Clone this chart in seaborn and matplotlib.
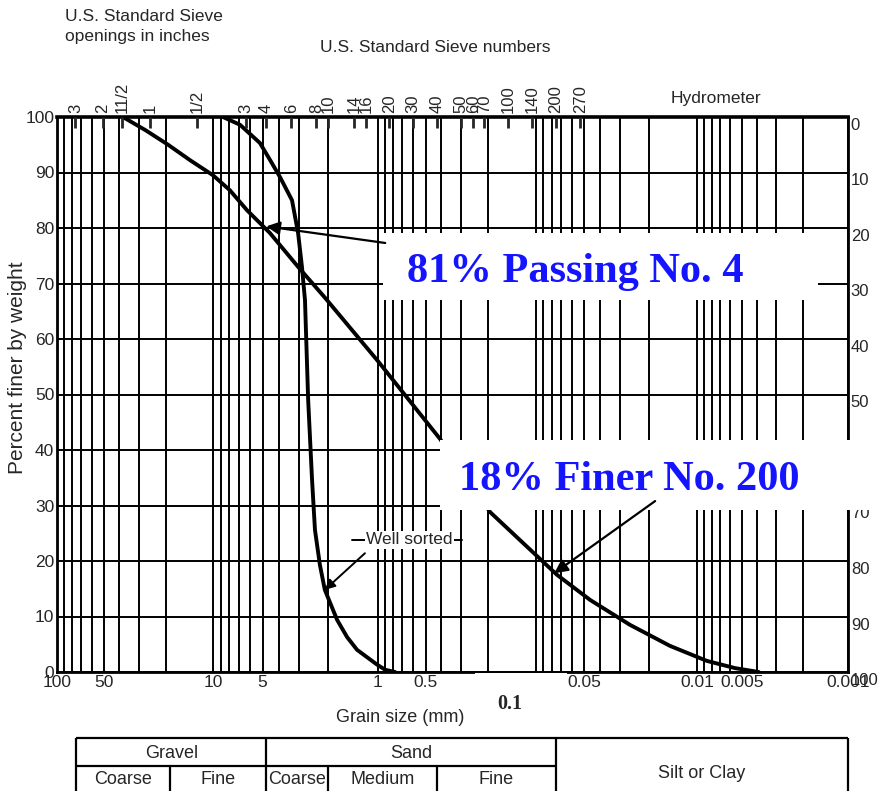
import numpy as np
import matplotlib
matplotlib.use('Agg')
import matplotlib.pyplot as plt
import matplotlib.transforms as mtransforms
from matplotlib.patches import Rectangle
import seaborn as sns

# grain size distribution curves (size in mm, percent finer)
well_graded_mm = [37.8, 27.0, 19.4, 14.0, 10.0, 7.9, 6.22, 4.52, 3.05, 2.09, 1.0, 0.405, 0.195, 0.074,
                  0.0462, 0.0261, 0.0147, 0.0086, 0.0056, 0.0039]
well_graded_pct = [100, 97.6, 95, 92.2, 89.5, 86.8, 83.2, 79.1, 73, 67.4, 56, 42, 28.8, 17.5,
                   13.0, 8.5, 4.7, 2.0, 0.7, 0]

well_sorted_mm = [8.7, 6.86, 5.19, 4.52, 3.93, 3.32, 3.05, 2.89, 2.77, 2.65, 2.51, 2.41,
                  2.25, 2.10, 1.77, 1.54, 1.34, 1.01, 0.90, 0.78]
well_sorted_pct = [100, 98.6, 95.3, 92.3, 89.2, 85, 79.1, 73, 67, 49, 34.6, 25.6,
                   19.3, 14.8, 9.4, 6.3, 4, 1.3, 0.4, 0]

# axis labelling
size_ticks = [100, 50, 10, 5, 1, 0.5, 0.05, 0.01, 0.005, 0.001]
size_tick_labels = ['100', '50', '10', '5', '1', '0.5', '0.05', '0.01', '0.005', '0.001']
pct_ticks = list(range(0, 101, 10))
hydrometer_labels = [str(v) for v in range(0, 101, 10)]

sieve_mm = [76.2, 50.8, 38.1, 25.4, 12.7,
            6.35, 4.75, 3.35, 2.36, 2.0, 1.4, 1.18, 0.85, 0.6, 0.425,
            0.3, 0.25, 0.212, 0.15, 0.106, 0.075, 0.053]
sieve_labels = ['3', '2', '11/2', '1', '1/2',
                '3', '4', '6', '8', '10', '14', '16', '20', '30', '40',
                '50', '60', '70', '100', '140', '200', '270']

# soil classes (boundaries in mm)
class_top = [('Gravel', 75, 4.75), ('Sand', 4.75, 0.075)]
class_bottom = [('Coarse', 75, 19), ('Fine', 19, 4.75), ('Coarse', 4.75, 2.0),
                ('Medium', 2.0, 0.425), ('Fine', 0.425, 0.075)]

# the printed log axis is not perfectly even between decades
knot_log = [-3, -2, -1, 0, 1, 2]
knot_pos = [0, 151, 312, 470, 635, 791]


def fwd(x):
    return np.interp(np.log10(np.clip(x, 1e-9, None)), knot_log, knot_pos)


def inv(p):
    return 10 ** np.interp(p, knot_pos, knot_log)


def mid(a, b):
    return float(inv((fwd(a) + fwd(b)) / 2))


sns.set_style('white')
plt.rcParams['font.family'] = ['Liberation Sans', 'DejaVu Sans']
serif = ['Liberation Serif', 'DejaVu Serif']

W, H = 879, 791
fig = plt.figure(figsize=(W / 100, H / 100), dpi=100)
ax = fig.add_axes([57 / W, 1 - 672 / H, 791 / W, 555 / H])

sns.lineplot(x=well_graded_mm, y=well_graded_pct, ax=ax, color='black', lw=2.8, sort=False, zorder=3)
sns.lineplot(x=well_sorted_mm, y=well_sorted_pct, ax=ax, color='black', lw=2.8, sort=False, zorder=3)

ax.set_xscale('function', functions=(fwd, inv))
ax.set_xlim(100, 0.001)
ax.set_ylim(0, 100)

grid_mm = [m * 10.0 ** k for k in range(-3, 2) for m in range(1, 10)] + [100]
ax.set_xticks(grid_mm, minor=True)
ax.set_xticks(size_ticks)
ax.set_xticklabels(size_tick_labels, fontsize=12.5)
ax.set_yticks(pct_ticks)
ax.set_yticklabels([str(v) for v in pct_ticks], fontsize=12.5)
ax.tick_params(axis='both', which='both', length=0, pad=2)
ax.grid(which='both', axis='both', color='black', lw=1.4)
for s in ax.spines.values():
    s.set_color('black')
    s.set_linewidth(2)
ax.spines['top'].set_linewidth(2.6)
ax.set_xlabel('')
ax.set_ylabel('')

fig.text(18 / W, 1 - 368 / H, 'Percent finer by weight', rotation=90, fontsize=15,
         ha='center', va='center')
fig.text(400 / W, 1 - 717 / H, 'Grain size (mm)', fontsize=13, ha='center', va='center')

# hydrometer scale on the right (the scan sits a little lower on this side)
axr = ax.twinx()
axr.set_ylim(100, 0)
axr.set_yticks(pct_ticks)
axr.set_yticklabels(hydrometer_labels, fontsize=12)
axr.tick_params(length=0, pad=2)
axr.spines[:].set_visible(False)
shift = mtransforms.ScaledTranslation(0, -7 / 100, fig.dpi_scale_trans)
for lbl in axr.get_yticklabels():
    lbl.set_transform(lbl.get_transform() + shift)

# sieve marks on top
axt = ax.twiny()
axt.set_xscale('function', functions=(fwd, inv))
axt.set_xlim(100, 0.001)
axt.set_xticks(sieve_mm)
axt.set_xticklabels(sieve_labels, rotation=90, fontsize=12)
axt.tick_params(axis='x', direction='in', length=8, width=2, pad=3)
axt.set_xticks([], minor=True)
axt.spines[:].set_visible(False)

fig.text(65 / W, 1 - 9 / H, 'U.S. Standard Sieve\nopenings in inches', fontsize=12.5,
         ha='left', va='top', linespacing=1.45)
fig.text(435 / W, 1 - 48 / H, 'U.S. Standard Sieve numbers', fontsize=12.5, ha='center', va='center')
fig.text(716 / W, 1 - 98 / H, 'Hydrometer', fontsize=12.5, ha='center', va='center')

# the pasted-in 0.1 label
axt.add_patch(Rectangle((0.528, -0.08), 0.117, 0.078, transform=axt.transAxes,
                        facecolor='white', edgecolor='none', clip_on=False, zorder=6))
blend = mtransforms.blended_transform_factory(axt.transData, axt.transAxes)
blend = mtransforms.offset_copy(blend, fig=fig, x=-26, y=0, units='dots')
axt.text(0.1, -0.058, '0.1', transform=blend, ha='center', va='center', fontsize=14.5,
         fontweight='bold', family=serif, zorder=7, clip_on=False)

# annotation boxes
blue = '#1414ff'
axt.add_patch(Rectangle((0.412, 0.670), 0.55, 0.121, transform=axt.transAxes,
                        facecolor='white', edgecolor='none', clip_on=False, zorder=4))
axt.text(0.655, 0.703, '81% Passing No. 4', transform=axt.transAxes, ha='center', va='baseline',
         fontsize=30.5, fontweight='bold', color=blue, family=serif, zorder=5)
axt.annotate('', xy=(4.75, 80.3), xytext=(0.90, 77.3),
             arrowprops=dict(arrowstyle='-|>', color='black', lw=1.6, mutation_scale=20,
                             shrinkA=0, shrinkB=0), zorder=5)

axt.add_patch(Rectangle((0.484, 0.292), 0.60, 0.126, transform=axt.transAxes,
                        facecolor='white', edgecolor='none', clip_on=False, zorder=4))
axt.text(0.724, 0.328, '18% Finer No. 200', transform=axt.transAxes, ha='center', va='baseline',
         fontsize=30.5, fontweight='bold', color=blue, family=serif, zorder=5)
axt.annotate('', xy=(0.077, 17.8), xytext=(0.0182, 30.8),
             arrowprops=dict(arrowstyle='-|>', color='black', lw=1.6, mutation_scale=20,
                             shrinkA=0, shrinkB=0), zorder=5)

# well sorted label with its leader
axt.plot([1.44, 0.294], [23.8, 23.8], color='black', lw=1.4, zorder=4)
axt.text(mid(1.2, 0.33), 23.8, 'Well sorted', ha='center', va='center', fontsize=12.5, zorder=5,
         bbox=dict(facecolor='white', edgecolor='none', pad=1))
axt.annotate('', xy=(2.10, 14.8), xytext=(1.2, 21.4),
             arrowprops=dict(arrowstyle='-|>', color='black', lw=1.4, mutation_scale=15,
                             shrinkA=0, shrinkB=0), zorder=5)

# classification table below the chart
axc = fig.add_axes([57 / W, 1 - 794 / H, 791 / W, 56 / H], sharex=ax)
axc.set_ylim(0, 2)
axc.axis('off')
lk = dict(color='black', lw=1.6, clip_on=False)
axc.hlines([2, 0], 75, 0.001, **lk)
axc.hlines(1, 75, 0.075, **lk)
axc.vlines([75, 4.75, 0.075, 0.001], 0, 2, **lk)
axc.vlines([19, 2.0, 0.425], 0, 1, **lk)
for name, a, b in class_top:
    axc.text(mid(a, b), 1.45, name, ha='center', va='center', fontsize=13)
for name, a, b in class_bottom:
    axc.text(mid(a, b), 0.5, name, ha='center', va='center', fontsize=13)
axc.text(mid(0.075, 0.001), 0.75, 'Silt or Clay', ha='center', va='center', fontsize=13)

fig.savefig('out.png', dpi=100)
